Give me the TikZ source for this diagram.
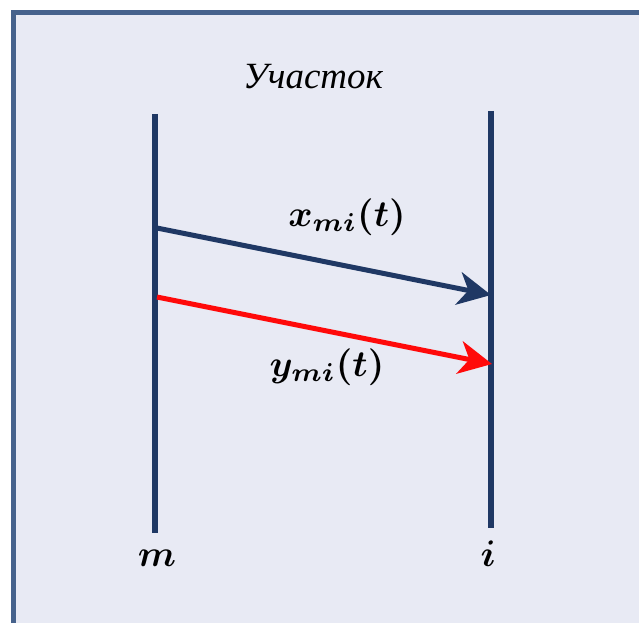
\documentclass[tikz,border=0pt]{standalone}
\usepackage{fontspec}
\usepackage{bm}
\usetikzlibrary{arrows.meta}
\newfontfamily\cyrserif{Liberation Serif}
\definecolor{frameblue}{HTML}{46628C}
\definecolor{paleback}{HTML}{E8EAF4}
\definecolor{navy}{HTML}{1F3864}
\definecolor{brightred}{HTML}{FF0A0A}
\newcommand{\bigsym}[1]{\scalebox{3.7}{$\bm{#1}$}}

\begin{document}
\begin{tikzpicture}[x=1pt, y=-1pt,
    lifeline/.style={draw=navy, line width=6pt},
    msg/.style={line width=5pt, -{Stealth[length=33pt, width=33pt, inset=10pt]}},
    lbl/.style={inner sep=0pt}]
      \useasboundingbox (0, 0) rectangle (639, 623);
      % frame, cut off at the right and bottom
      \fill[paleback] (13.5, 12.5) rectangle (639, 623);
      \draw[draw=frameblue, line width=5pt] (13.5, 623) -- (13.5, 12.5) -- (639, 12.5);
      \node[font=\cyrserif\itshape\fontsize{37}{44}\selectfont, inner sep=0pt]
        (title) at (313, 77) {Участок};

      % the two sites
      \coordinate (m-top) at (155, 114);
      \coordinate (m-bot) at (155, 533);
      \coordinate (i-top) at (491, 111);
      \coordinate (i-bot) at (491, 528);
      \draw[lifeline] (m-top) -- (m-bot);
      \draw[lifeline] (i-top) -- (i-bot);
      \node[lbl] (m) at (157, 558) {\bigsym{m}};
      \node[lbl] (i) at (488, 554) {\bigsym{i}};

      % flows from m to i
      \coordinate (x-out) at (157, 228);
      \coordinate (x-in) at (491, 295);
      \coordinate (y-out) at (157, 297);
      \coordinate (y-in) at (492, 364);
      \draw[msg, navy] (x-out) -- (x-in);
      \draw[msg, brightred] (y-out) -- (y-in);
      \node[lbl] (xlab) at (347, 217) {\bigsym{x_{mi}(t)}};
      \node[lbl] (ylab) at (327, 367) {\bigsym{y_{mi}(t)}};
\end{tikzpicture}
\end{document}
